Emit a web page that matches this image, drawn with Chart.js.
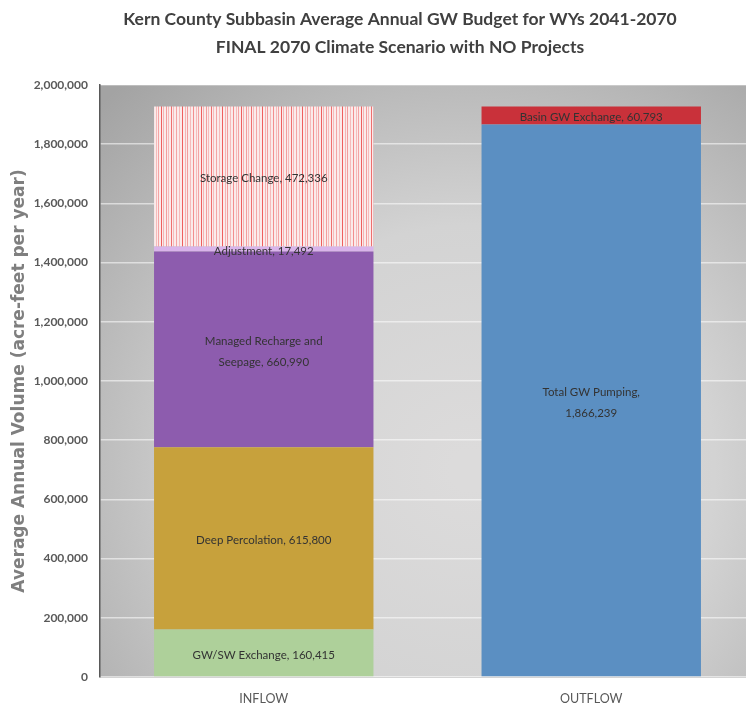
<!DOCTYPE html>
<html>
<head>
<meta charset="utf-8">
<script src="https://cdn.jsdelivr.net/npm/chart.js@4.4.1/dist/chart.umd.min.js"></script>
<style>
  html, body { margin: 0; padding: 0; background: #fff; overflow: hidden; }
  #wrap { width: 746px; height: 712px; overflow: hidden; }
</style>
</head>
<body>
<div id="wrap"><canvas id="gwChart" width="755" height="712"></canvas></div>
<script>
// categories and series, bottom segment first
let categories = ['INFLOW', 'OUTFLOW'];

let seriesNames = ['GW/SW Exchange',
'Deep Percolation',
'Managed Recharge and\nSeepage',
'Adjustment',
'Storage Change',
'Total GW Pumping',
'Basin GW Exchange'];

let inflowValues  = [160415, 615800, 660990, 17492, 472336, 0, 0];
let outflowValues = [0, 0, 0, 0, 0, 1866239, 60793];

let yTicks = [0, 200000, 400000, 600000, 800000, 1000000, 1200000, 1400000, 1600000, 1800000, 2000000];

let titleLines = ['Kern County Subbasin Average Annual GW Budget for WYs 2041-2070',
'FINAL 2070 Climate Scenario with NO Projects'];

const labelFont = 'Lato, "Open Sans", sans-serif';

// striped fill for storage change
function stripes() {
    const c = document.createElement('canvas');
    c.width = 40; c.height = 10;
    const g = c.getContext('2d');
    g.fillStyle = '#fbeaea';
    g.fillRect(0, 0, 40, 10);
    const lines = [[1, 0.9], [3, 0.35], [6, 0.5], [8, 0.3], [11, 0.8], [13, 0.3], [16, 0.45], [19, 0.3], [22, 0.9], [25, 0.35], [27, 0.5], [30, 0.3], [33, 0.6], [36, 0.3], [38, 0.45]];
    lines.forEach(function(l) {
        g.fillStyle = 'rgba(236, 80, 80,' + l[1] + ')';
        g.fillRect(l[0], 0, 1, 10);
    });
    return g.createPattern(c, 'repeat');
}

let segColors = ['#aed09a', '#c7a13c', '#8d5cae', '#d9b4ea', stripes(), '#5b8fc2', '#c9313a'];

let fmt = function(v) { return v.toLocaleString('en-US'); };

const plotBackground = {
    id: 'plotBackground',
    beforeDraw: function(chart) {
        const a = chart.chartArea, ctx = chart.ctx;
        const g = ctx.createRadialGradient(470, 470, 20, 470, 470, 520);
        g.addColorStop(0, '#dcdbdb');
        g.addColorStop(0.45, '#d3d3d3');
        g.addColorStop(1, '#a3a3a3');
        ctx.save();
        ctx.fillStyle = g;
        ctx.fillRect(a.left, a.top, a.right - a.left, a.bottom - a.top);
        ctx.restore();
    },
    afterDraw: function(chart) {
        // two line heading, centred over the plot rather than the canvas
        const ctx = chart.ctx;
        ctx.save();
        ctx.font = 'bold 17.5px ' + labelFont;
        ctx.fillStyle = '#404040';
        ctx.textAlign = 'center';
        ctx.textBaseline = 'middle';
        titleLines.forEach(function(t, k) {
            ctx.fillText(t, 400, 19 + k * 28);
        });
        ctx.restore();
    }
};

const segmentLabels = {
    id: 'segmentLabels',
    afterDatasetsDraw: function(chart) {
        const ctx = chart.ctx;
        ctx.save();
        ctx.font = '11.5px ' + labelFont;
        ctx.fillStyle = '#333333';
        ctx.textAlign = 'center';
        ctx.textBaseline = 'middle';
        chart.data.datasets.forEach(function(ds, i) {
            chart.getDatasetMeta(i).data.forEach(function(bar, j) {
                const v = ds.data[j];
                if (!v) return;
                let lines;
                if (ds.label === 'Total GW Pumping') lines = [ds.label + ',', fmt(v)];
                else lines = (ds.label + ', ' + fmt(v)).split('\n');
                const cy = (bar.y + bar.base) / 2 + 2;
                lines.forEach(function(t, k) {
                    ctx.fillText(t, bar.x, cy + (k - (lines.length - 1) / 2) * 21);
                });
            });
        });
        ctx.restore();
    }
};

let chartElement = document.getElementById('gwChart').getContext('2d');

let gwChart = new Chart(chartElement, {
    type: 'bar',
    data: {
        labels: categories,
        datasets: seriesNames.map(function(name, i) {
            return {
                label: name,
                data: [inflowValues[i], outflowValues[i]],
                backgroundColor: segColors[i],
                borderWidth: 0,
                categoryPercentage: 1,
                barPercentage: 0.67
            };
        })
    },
    options: {
        responsive: false,
        animation: false,
        layout: { padding: { left: 0, right: 0, top: 85, bottom: 0 } },
        plugins: {
            legend: { display: false },
            tooltip: { enabled: false },
            title: { display: false }
        },
        scales: {
            x: {
                stacked: true,
                grid: { display: false, drawTicks: false },
                border: { color: '#d4d4d4', width: 1 },
                ticks: { color: '#595959', padding: 14, font: { family: labelFont, size: 12.5 } },
                afterFit: function(s) { s.height = 35; }
            },
            y: {
                stacked: true,
                min: 0,
                max: 2000000,
                afterBuildTicks: function(s) { s.ticks = yTicks.map(function(v) { return { value: v }; }); },
                grid: { color: 'rgba(255,255,255,0.55)', lineWidth: 1.5, drawTicks: false },
                border: { color: '#595959', width: 1.5 },
                ticks: {
                    color: '#595959',
                    padding: 12,
                    font: { family: labelFont, size: 12, weight: 'bold' },
                    callback: function(v) { return fmt(v); }
                },
                title: {
                    display: true,
                    text: 'Average Annual Volume (acre-feet per year)',
                    color: '#7f7f7f',
                    font: { family: '"DejaVu Sans", sans-serif', size: 17, weight: 'bold' },
                    padding: { top: 9, bottom: 0 }
                },
                afterFit: function(s) { s.width = 100; }
            }
        }
    },
    plugins: [plotBackground, segmentLabels]
});
</script>
</body>
</html>
